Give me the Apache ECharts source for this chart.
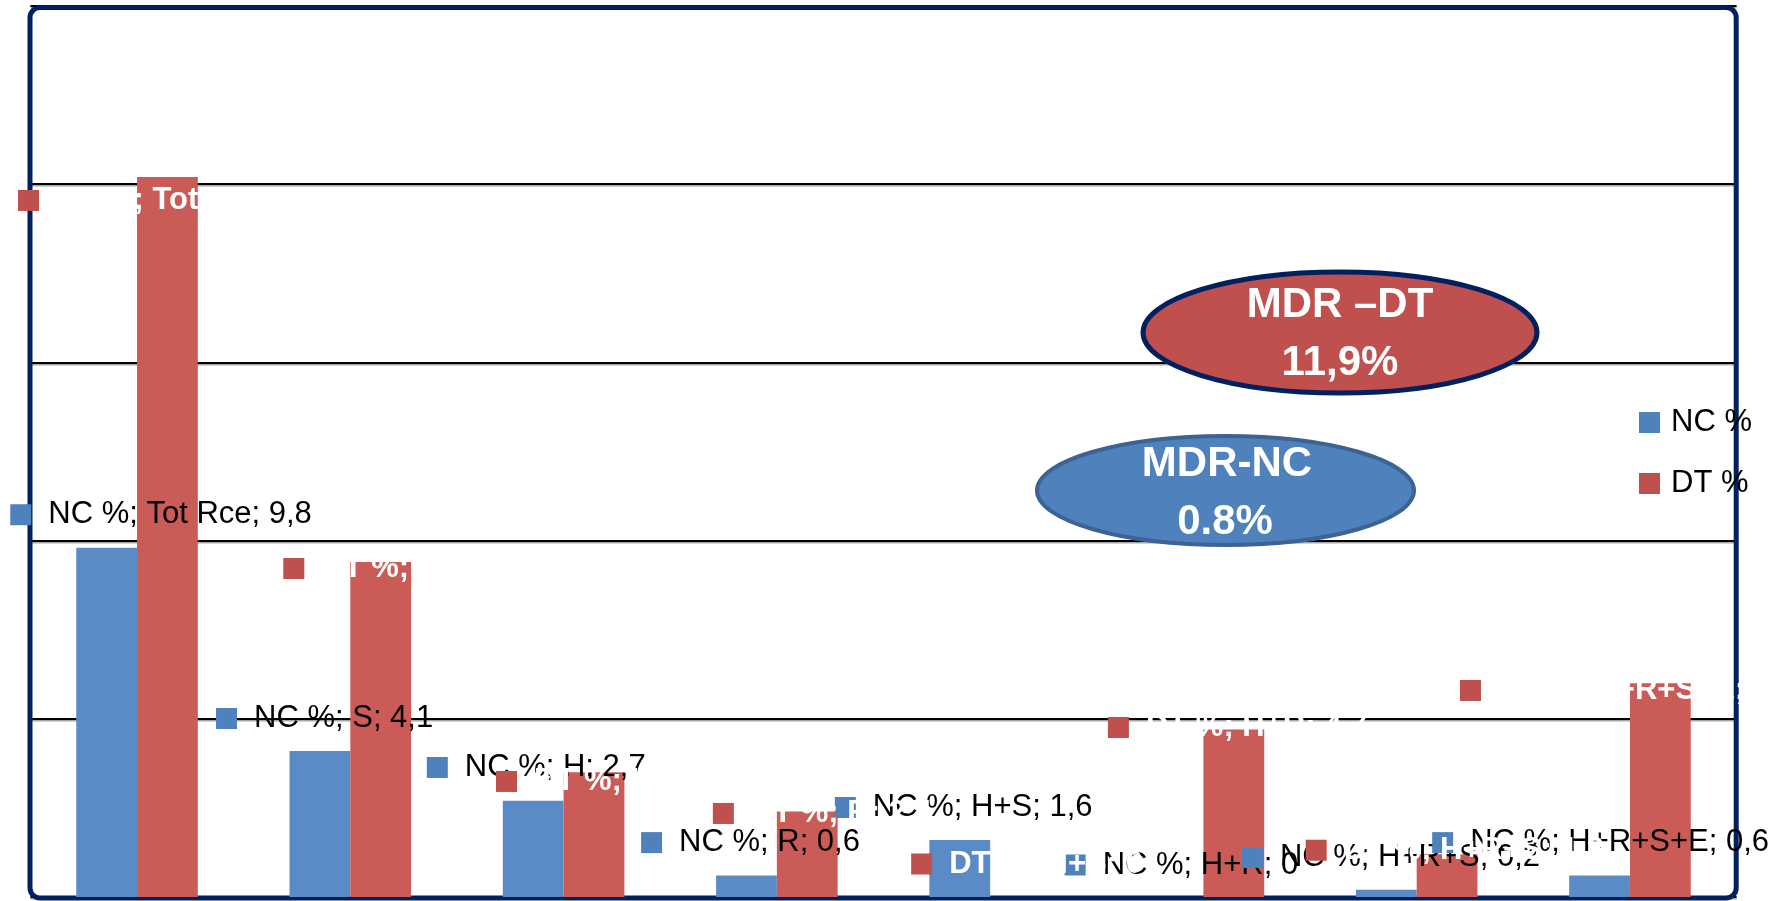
<!DOCTYPE html>
<html>
<head>
<meta charset="utf-8">
<script src="https://cdn.jsdelivr.net/npm/echarts@6/dist/echarts.min.js"></script>
<style>
html,body{margin:0;padding:0;background:#fff;}
#c{width:1781px;height:901px;}
</style>
</head>
<body>
<div id="c"></div>
<script>
// ---- data ----
var categories = ['Tot Rce', 'S', 'H', 'R', 'H+S', 'H+R', 'H+R+S', 'H+R+S+E'];
var ncValues = [9.8, 4.1, 2.7, 0.6, 1.6, 0, 0.2, 0.6];
var dtValues = [20.2, 9.4, 3.5, 2.4, 0, 4.7, 1.2, 6.0];
var seriesNames = ['NC %', 'DT %'];
var mdrDtText = ['MDR \u2013DT', '11,9%'];
var mdrNcText = ['MDR-NC', '0.8%'];

// ---- layout (label offsets relative to each bar's top-left corner) ----
var ncLabelPos = [[-66, -33], [-73.5, -32.4], [-76, -33.3], [-75, -33], [-94.5, -32.5], [-78, -32], [-114, -32.4], [-137, -33]];
var dtLabelPos = [[-119, 23.4], [-67, 6.5], [-67.6, 9.2], [-64, 2], [-79, -33], [-95.5, -2], [-111, -4], [-170, 7.3]];

var FONT = "'Liberation Sans', Arial, sans-serif";
var GRID = {left: 30.4, right: 44.4, top: 6, bottom: 4};
var W = 1781, H = 901;

function fmt(v){ return String(v).replace('.', ','); }

function makeData(vals, pos){
  return vals.map(function(v, i){
    return {value: v, label: {position: pos[i]}};
  });
}

var chart = echarts.init(document.getElementById('c'), null, {renderer: 'canvas'});
var option = {
  animation: false,
  backgroundColor: '#fff',
  grid: {left: GRID.left, right: GRID.right, top: GRID.top, bottom: GRID.bottom, containLabel: false},
  legend: {
    orient: 'vertical',
    left: 1639, top: 407, padding: 0,
    itemWidth: 21, itemHeight: 21, itemGap: 30,
    icon: 'rect',
    textStyle: {fontSize: 31, color: '#000', fontFamily: FONT, padding: [0, 0, 0, 6]},
    data: [
      {name: seriesNames[0], itemStyle: {color: '#4F81BD'}},
      {name: seriesNames[1], itemStyle: {color: '#C0504D'}}
    ]
  },
  xAxis: {
    type: 'category', data: categories,
    axisLabel: {show: false}, axisTick: {show: false}, axisLine: {show: false}
  },
  yAxis: {
    type: 'value', min: 0, max: 25, interval: 5,
    axisLabel: {show: false}, axisTick: {show: false}, axisLine: {show: false},
    splitLine: {lineStyle: {color: '#000', width: 2, shadowColor: 'rgba(0,0,0,0.35)', shadowOffsetY: 1.5, shadowBlur: 0}}
  },
  series: [
    {
      name: seriesNames[0], type: 'bar', barGap: '0%', barCategoryGap: '43%',
      itemStyle: {color: '#5B8BC7'},
      data: makeData(ncValues, ncLabelPos),
      label: {
        show: true, align: 'left', verticalAlign: 'middle',
        formatter: function(p){ return '{sq| }{t|' + p.seriesName + '; ' + p.name + '; ' + fmt(p.value) + '}'; },
        rich: {
          sq: {width: 21, height: 21, backgroundColor: '#4F81BD', verticalAlign: 'middle', lineHeight: 31},
          t: {fontSize: 31, fontFamily: FONT, color: '#000', padding: [0, 0, 0, 17], verticalAlign: 'middle', lineHeight: 31}
        }
      }
    },
    {
      name: seriesNames[1], type: 'bar', barGap: '0%', barCategoryGap: '43%',
      itemStyle: {color: '#CB5B56'},
      data: makeData(dtValues, dtLabelPos),
      label: {
        show: true, align: 'left', verticalAlign: 'middle',
        formatter: function(p){ return '{sq| }{t|' + p.seriesName + '; ' + p.name + '; ' + fmt(p.value) + '}'; },
        rich: {
          sq: {width: 21, height: 21, backgroundColor: '#C0504D', verticalAlign: 'middle', lineHeight: 31},
          t: {fontSize: 31, fontFamily: FONT, fontWeight: 'bold', color: '#fff', padding: [0, 0, 0, 17], verticalAlign: 'middle', lineHeight: 31}
        }
      }
    }
  ],
  graphic: [
    {
      type: 'rect', z: 1, silent: true,
      shape: {x: GRID.left - 0.4, y: 7.5, width: W - GRID.left - GRID.right, height: 890.5, r: 10},
      style: {fill: 'none', stroke: '#002060', lineWidth: 5}
    },
    {
      type: 'ellipse', z: 10, silent: true,
      shape: {cx: 1340, cy: 332.5, rx: 197, ry: 60.5},
      style: {fill: '#C0504D', stroke: '#002060', lineWidth: 5}
    },
    {
      type: 'ellipse', z: 10, silent: true,
      shape: {cx: 1225.5, cy: 490.5, rx: 188.5, ry: 54.5},
      style: {fill: '#4F81BD', stroke: '#3D6394', lineWidth: 4}
    },
    {type: 'text', z: 11, x: 1340, y: 305, style: {text: mdrDtText[0], fill: '#fff', font: 'bold 42px ' + FONT, align: 'center', verticalAlign: 'middle'}},
    {type: 'text', z: 11, x: 1340, y: 363, style: {text: mdrDtText[1], fill: '#fff', font: 'bold 42px ' + FONT, align: 'center', verticalAlign: 'middle'}},
    {type: 'text', z: 11, x: 1227, y: 464, style: {text: mdrNcText[0], fill: '#fff', font: 'bold 42px ' + FONT, align: 'center', verticalAlign: 'middle'}},
    {type: 'text', z: 11, x: 1225, y: 522, style: {text: mdrNcText[1], fill: '#fff', font: 'bold 42px ' + FONT, align: 'center', verticalAlign: 'middle'}}
  ]
};
chart.setOption(option);
</script>
</body>
</html>
